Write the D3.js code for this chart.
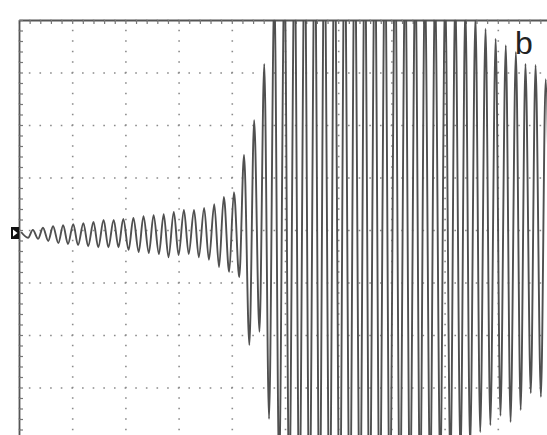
<!DOCTYPE html>
<html>
<head>
<meta charset="utf-8">
<script src="https://cdn.jsdelivr.net/npm/d3@7"></script>
<style>
  body { margin: 0; background: #fff; }
  #vis { display: block; }
</style>
</head>
<body>
<svg id="vis" width="547" height="435"></svg>
<script>
// screen grid, in divisions
var gridX = [0, 1, 2, 3, 4, 5, 6, 7, 8, 9, 10];
var gridY = [-4, -3, -2, -1, 0, 1, 2, 3, 4];

// trace maxima (time in div, volts in div)
var peakTimes = [0.04, 0.26, 0.45, 0.64, 0.83, 1.02, 1.21, 1.40, 1.59, 1.78, 1.96,
    2.15, 2.34, 2.53, 2.72, 2.91, 3.10, 3.29, 3.48, 3.67, 3.85, 4.04, 4.23, 4.42,
    4.61, 4.80, 4.99, 5.18, 5.37, 5.56, 5.74, 5.93, 6.12, 6.31, 6.50, 6.69, 6.88,
    7.07, 7.26, 7.45, 7.63, 7.82, 8.01, 8.20, 8.39, 8.58, 8.77, 8.96, 9.15, 9.34,
    9.52, 9.71, 9.90];
var peakVolts = [0.0, 0.04, 0.08, 0.11, 0.13, 0.15, 0.17, 0.19, 0.23, 0.23, 0.25,
    0.27, 0.30, 0.32, 0.34, 0.38, 0.42, 0.42, 0.46, 0.53, 0.67, 0.76, 1.47, 2.13,
    3.20, 4.6, 5.0, 5.3, 5.5, 5.6, 5.7, 5.8, 5.8, 5.7, 5.6, 5.5, 5.4,
    5.3, 5.1, 5.0, 4.8, 4.7, 4.6, 4.5, 4.3, 4.1, 3.87, 3.68, 3.56, 3.43,
    3.20, 3.18, 2.91];

// trace minima
var troughTimes = [0.17, 0.36, 0.55, 0.74, 0.92, 1.11, 1.30, 1.49, 1.68, 1.87, 2.06,
    2.25, 2.44, 2.63, 2.81, 3.00, 3.19, 3.38, 3.57, 3.76, 3.95, 4.14, 4.33, 4.52,
    4.70, 4.89, 5.08, 5.27, 5.46, 5.65, 5.84, 6.03, 6.22, 6.41, 6.59, 6.78, 6.97,
    7.16, 7.35, 7.54, 7.73, 7.92, 8.11, 8.30, 8.48, 8.67, 8.86, 9.05, 9.24, 9.43,
    9.62, 9.81, 10.00];
var troughVolts = [-0.11, -0.13, -0.17, -0.21, -0.23, -0.25, -0.27, -0.29, -0.29, -0.29, -0.34,
    -0.38, -0.40, -0.42, -0.48, -0.44, -0.42, -0.48, -0.53, -0.67, -0.76, -0.86, -2.15, -1.90,
    -3.56, -4.6, -5.0, -5.3, -5.5, -5.6, -5.7, -5.8, -5.8, -5.7, -5.6, -5.5, -5.4,
    -5.3, -5.1, -5.0, -4.8, -4.6, -4.5, -4.3, -4.1, -3.81, -3.68, -3.50, -3.62, -3.39,
    -3.07, -3.14, -3.0];

var svg = d3.select('#vis');

var x = d3.scaleLinear().domain([0, 10]).range([19, 551]);
var y = d3.scaleLinear().domain([-4, 4]).range([440, 20]);

var minorX = d3.range(0, 10.001, 0.2);
var minorY = d3.range(-4, 4.001, 0.2);

svg.append('rect')
    .attr('width', 547)
    .attr('height', 435)
    .attr('fill', '#fff');

//dotted grid, dots sit on the minor divisions
var vGrid = svg.append('g')
    .attr('class', 'grid grid--x')
    .attr('transform', 'translate(0,440)')
    .call(d3.axisBottom(x).tickValues(gridX).tickSize(-420).tickFormat(''));

var hGrid = svg.append('g')
    .attr('class', 'grid grid--y')
    .attr('transform', 'translate(19,0)')
    .call(d3.axisLeft(y).tickValues(gridY).tickSize(-532).tickFormat(''));

svg.selectAll('.grid .domain').remove();
vGrid.selectAll('line')
    .attr('stroke', '#8a8a8a')
    .attr('stroke-width', 1.6)
    .attr('stroke-dasharray', '1.6,8.9')
    .attr('stroke-dashoffset', 0.8);
hGrid.selectAll('line')
    .attr('stroke', '#8a8a8a')
    .attr('stroke-width', 1.6)
    .attr('stroke-dasharray', '1.6,9.04')
    .attr('stroke-dashoffset', 0.8);

//frame edges with minor ticks
var topAxis = svg.append('g')
    .attr('class', 'axis axis--top')
    .attr('transform', 'translate(0,20)')
    .call(d3.axisBottom(x).tickValues(minorX).tickSize(4).tickSizeOuter(0).tickFormat(''));

var leftAxis = svg.append('g')
    .attr('class', 'axis axis--left')
    .attr('transform', 'translate(19,0)')
    .call(d3.axisRight(y).tickValues(minorY).tickSize(4).tickSizeOuter(0).tickFormat(''));

svg.selectAll('.axis .domain')
    .attr('stroke', '#555')
    .attr('stroke-width', 1.8);
svg.selectAll('.axis line')
    .attr('stroke', '#777')
    .attr('stroke-width', 1.2);

//trace
var points = [];
peakTimes.forEach(function (t, i) {
    points.push({t: t, v: peakVolts[i]});
});
troughTimes.forEach(function (t, i) {
    points.push({t: t, v: troughVolts[i]});
});
points.sort(function (a, b) { return a.t - b.t; });

svg.append('clipPath')
    .attr('id', 'screen')
    .append('rect')
    .attr('x', 19)
    .attr('y', 20)
    .attr('width', 532)
    .attr('height', 420);

var line = d3.line()
    .x(function (d) { return x(d.t); })
    .y(function (d) { return y(d.v) + 2; })
    .curve(d3.curveMonotoneX);

svg.append('path')
    .datum(points)
    .attr('clip-path', 'url(#screen)')
    .attr('d', line)
    .attr('fill', 'none')
    .attr('stroke', '#505050')
    .attr('stroke-width', 1.9);

//ground marker
var marker = svg.append('g')
    .attr('class', 'marker')
    .attr('transform', 'translate(11,' + (y(0) + 3) + ')');

marker.append('rect')
    .attr('x', 0)
    .attr('y', -6)
    .attr('width', 8)
    .attr('height', 12)
    .attr('fill', '#111');

marker.append('path')
    .attr('d', 'M2,-3.5L6.5,0L2,3.5Z')
    .attr('fill', '#fff');

svg.append('text')
    .attr('x', 515)
    .attr('y', 54)
    .attr('font-family', 'Liberation Sans, Arial, sans-serif')
    .attr('font-size', 32)
    .attr('fill', '#222')
    .text('b');
</script>
</body>
</html>
